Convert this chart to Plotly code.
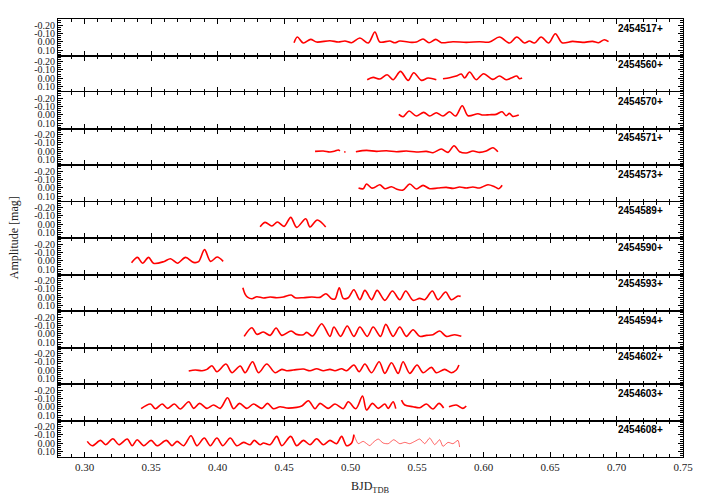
import plotly.graph_objects as go
from plotly.subplots import make_subplots

# night labels (BJD offset) for each panel, top to bottom
labels = ['2454517+', '2454560+', '2454570+', '2454571+', '2454573+', '2454589+',
          '2454590+', '2454593+', '2454594+', '2454602+', '2454603+', '2454608+']

x_517 = [0.4575, 0.460, 0.4645, 0.470, 0.4745, 0.4845, 0.4908, 0.4958, 0.5008, 0.507, 0.5133, 0.5183,
         0.522, 0.5295, 0.5333, 0.537, 0.5458, 0.5495, 0.5545, 0.559, 0.564, 0.5683, 0.577, 0.587,
         0.597, 0.6045, 0.612, 0.6195, 0.625, 0.6308, 0.6345, 0.6383, 0.6433, 0.649, 0.654, 0.659,
         0.667, 0.6745, 0.682, 0.6865, 0.6908, 0.694]
m_517 = [0.012, -0.056, 0.016, -0.028, 0.004, -0.012, 0.004, -0.008, 0.012, -0.044, 0.016, -0.116,
         0.004, -0.008, 0.012, -0.008, 0.008, 0.004, -0.032, 0.012, -0.028, 0.012, 0.0, 0.008,
         0.0, 0.004, -0.056, 0.016, -0.056, 0.016, -0.008, 0.016, -0.056, 0.016, -0.096, 0.012,
         -0.004, 0.008, -0.004, 0.012, -0.024, 0.0]

x_560 = [0.5125, 0.517, 0.522, 0.5275, 0.532, 0.5375, 0.5433, 0.5475, 0.5533, 0.5583, 0.5645, None,
         0.5695, 0.5745, 0.5795, 0.5833, 0.5858, 0.5895, 0.5945, 0.600, 0.607, 0.612, 0.617, 0.6208,
         0.625, 0.627, 0.629]
m_560 = [0.018, -0.010, 0.010, -0.042, 0.018, -0.082, 0.026, -0.066, 0.026, -0.002, 0.018, None,
         0.006, -0.006, -0.026, -0.050, -0.002, -0.074, 0.018, -0.054, 0.014, -0.026, 0.018, -0.002,
         -0.026, 0.006, -0.002]

x_570 = [0.5363, 0.5395, 0.544, 0.5495, 0.555, 0.5595, 0.5645, 0.5695, 0.5745, 0.579, 0.584, 0.5883,
         0.5958, 0.5995, 0.6045, 0.6095, 0.614, 0.617, 0.6195, 0.622, 0.6265]
m_570 = [-0.004, 0.024, -0.044, 0.016, -0.028, 0.016, -0.024, 0.016, -0.036, 0.016, -0.108, 0.012,
         -0.012, 0.004, 0.0, -0.004, -0.036, 0.012, -0.016, 0.020, 0.004]

x_571 = [0.4733, 0.4795, 0.4845, 0.4883, 0.4908, 0.492, None, 0.4952, 0.4962, None,
         0.504, 0.512, 0.5195, 0.527, 0.5345, 0.542, 0.5495, 0.557, 0.562, 0.5683, 0.5733, 0.5778,
         0.582, 0.587, 0.592, 0.597, 0.602, 0.607, 0.6108]
m_571 = [0.002, -0.002, 0.010, -0.002, -0.014, -0.002, None, 0.010, 0.008, None,
         0.006, -0.010, 0.002, -0.006, 0.006, -0.002, 0.010, 0.002, 0.018, -0.026, 0.014, -0.066,
         0.006, 0.022, -0.002, 0.014, -0.002, -0.042, 0.006]

x_573 = [0.506, 0.5095, 0.512, 0.5158, 0.5183, 0.522, 0.5258, 0.5308, 0.5345, 0.5395, 0.5445, 0.5495,
         0.5545, 0.5595, 0.5658, 0.572, 0.577, 0.582, 0.587, 0.592, 0.597, 0.6033, 0.6083, 0.6115,
         0.614]
m_573 = [0.004, 0.012, -0.044, 0.004, -0.004, -0.036, 0.012, -0.012, 0.016, 0.028, -0.044, 0.016,
         -0.028, 0.012, 0.004, -0.004, 0.008, -0.008, 0.004, -0.008, 0.004, -0.036, -0.012, 0.012,
         -0.030]

x_589 = [0.432, 0.4358, 0.4408, 0.445, 0.450, 0.455, 0.4595, 0.4663, 0.4695, 0.475, 0.4813]
m_589 = [0.030, -0.022, 0.022, -0.026, 0.026, -0.082, 0.038, -0.066, 0.034, -0.050, 0.034]

x_590 = [0.3353, 0.3398, 0.3436, 0.3481, 0.3518, 0.3594, 0.3646, 0.3699, 0.3759, 0.3819, 0.3857,
         0.3902, 0.3947, 0.3997, 0.4042]
m_590 = [0.024, -0.040, 0.030, -0.040, 0.030, 0.012, -0.024, 0.030, -0.040, 0.020, 0.012,
         -0.133, 0.008, -0.044, 0.008]

x_593 = [0.419, 0.4208, 0.4225, 0.4258, 0.4295, 0.4345, 0.4395, 0.4445, 0.4495, 0.4553, 0.4583, 0.4645,
         0.4708, 0.477, 0.4815, 0.4858, 0.4883, 0.4915, 0.4945, 0.4983, 0.5025, 0.507, 0.5108, 0.5158,
         0.520, 0.5258, 0.5315, 0.537, 0.5415, 0.547, 0.552, 0.5558, 0.5615, 0.5658, 0.5715, 0.5758,
         0.5808, 0.5828]
m_593 = [-0.114, -0.034, -0.002, 0.018, -0.006, 0.010, -0.002, 0.006, -0.002, -0.026, 0.006, 0.006,
         -0.002, 0.002, -0.042, 0.018, 0.022, -0.114, 0.014, 0.006, -0.090, 0.030, -0.082, 0.030,
         -0.082, 0.038, -0.074, 0.030, -0.074, 0.038, 0.014, 0.030, -0.074, 0.030, -0.062, 0.030,
         -0.014, -0.010]

x_594 = [0.420, 0.4258, 0.4295, 0.4345, 0.4395, 0.444, 0.4483, 0.4553, 0.4595, 0.4645, 0.467, 0.4715,
         0.4783, 0.4845, 0.4875, 0.4925, 0.4975, 0.5025, 0.507, 0.5125, 0.517, 0.5225, 0.5265, 0.532,
         0.537, 0.542, 0.547, 0.552, 0.557, 0.562, 0.567, 0.572, 0.5783, 0.5833]
m_594 = [0.032, -0.072, 0.008, -0.020, 0.020, -0.068, 0.020, -0.032, 0.008, 0.012, -0.016, 0.028,
         -0.120, 0.032, -0.080, 0.032, -0.092, 0.032, -0.080, 0.032, -0.080, 0.032, -0.112, 0.032,
         -0.080, 0.032, -0.048, 0.032, 0.020, 0.012, -0.032, 0.032, 0.012, 0.032]

x_602 = [0.3783, 0.3833, 0.3883, 0.392, 0.3958, 0.3995, 0.4063, 0.4108, 0.417, 0.4208, 0.4263, 0.4308,
         0.437, 0.4433, 0.4483, 0.452, 0.457, 0.4645, 0.4695, 0.4745, 0.4795, 0.4845, 0.4883, 0.4933,
         0.497, 0.5025, 0.5065, 0.5108, 0.5158, 0.5215, 0.5258, 0.5308, 0.5358, 0.5395, 0.5445, 0.550,
         0.5545, 0.5608, 0.5645, 0.5708, 0.5758, 0.5795, 0.5815]
m_602 = [0.010, -0.002, 0.006, -0.010, -0.054, 0.018, -0.074, 0.030, -0.050, 0.030, -0.102, 0.030,
         -0.074, 0.030, -0.010, 0.006, -0.002, -0.014, 0.006, -0.018, 0.006, -0.010, 0.006, -0.018,
         0.006, -0.062, 0.018, -0.074, 0.030, -0.102, 0.038, -0.090, 0.038, -0.102, 0.038, -0.062,
         0.030, -0.034, 0.030, -0.010, 0.030, -0.002, -0.062]

x_603 = [0.3425, 0.3495, 0.3533, 0.3583, 0.3625, 0.3675, 0.372, 0.3783, 0.382, 0.3865, 0.392, 0.397,
         0.402, 0.4075, 0.412, 0.4165, 0.422, 0.427, 0.4333, 0.4375, 0.442, 0.447, 0.452, 0.4595,
         0.4633, 0.4683, 0.4733, 0.477, 0.4833, 0.4883, 0.4945, 0.4983, 0.504, 0.509, 0.512, 0.5165,
         0.5208, 0.5258, 0.5283, 0.532, 0.534, None, 0.5383, 0.5408, 0.547, 0.552, 0.557, 0.562,
         0.5665, 0.570, None, 0.574, 0.5795, 0.5845, 0.587]
m_603 = [0.024, -0.032, 0.024, -0.032, 0.020, -0.032, 0.028, -0.060, 0.020, -0.040, 0.020, -0.020,
         0.020, -0.108, 0.024, -0.040, 0.020, -0.032, 0.020, -0.040, 0.024, 0.0, 0.016, 0.008,
         -0.008, -0.072, 0.024, -0.040, 0.020, -0.032, 0.024, -0.060, 0.024, -0.128, 0.040, -0.040,
         0.020, -0.032, 0.020, -0.060, 0.024, None, -0.080, -0.020, 0.0, 0.012, -0.032, 0.028,
         -0.040, 0.016, None, 0.0, -0.020, 0.020, -0.008]

x_608 = [0.302, 0.3058, 0.312, 0.3158, 0.3213, 0.3258, 0.332, 0.3358, 0.3395, 0.3445, 0.350, 0.3545,
         0.3615, 0.3658, 0.3695, 0.3745, 0.380, 0.3845, 0.390, 0.3945, 0.3995, 0.404, 0.4095, 0.4145,
         0.4195, 0.4245, 0.4275, 0.432, 0.4345, 0.4395, 0.4445, 0.4483, 0.455, 0.4595, 0.4645, 0.4695,
         0.4745, 0.4795, 0.4845, 0.4895, 0.4933, 0.497, 0.5008, 0.5025]
m_608 = [-0.022, 0.030, -0.034, 0.018, -0.054, 0.018, -0.050, 0.030, -0.042, 0.030, -0.034, 0.030,
         -0.034, 0.030, -0.022, 0.030, -0.090, 0.030, -0.062, 0.030, -0.062, 0.030, -0.062, 0.030,
         -0.010, 0.018, -0.034, 0.018, -0.002, 0.018, -0.082, 0.030, -0.082, 0.030, -0.034, 0.018,
         -0.054, 0.018, -0.034, 0.006, -0.082, 0.030, -0.002, -0.102]
# sparser end of the last night
x_608b = [0.5025, 0.5058, 0.5095, 0.5145, 0.517, 0.5208, 0.5245, 0.5283, 0.5325, 0.537, 0.5408, 0.5445,
          0.5483, 0.552, 0.5558, 0.5595, 0.5633, 0.567, 0.5695, 0.5733, 0.577, 0.5808, 0.582]
m_608b = [-0.102, 0.006, -0.022, 0.030, -0.010, -0.050, -0.002, 0.006, -0.042, 0.006, -0.010, 0.006,
          -0.022, -0.050, 0.006, -0.062, 0.018, -0.042, 0.038, -0.010, 0.006, -0.034, 0.046]

panels = [(x_517, m_517), (x_560, m_560), (x_570, m_570), (x_571, m_571), (x_573, m_573),
          (x_589, m_589), (x_590, m_590), (x_593, m_593), (x_594, m_594), (x_602, m_602),
          (x_603, m_603), (x_608, m_608)]

red = '#ff0000'
serif = 'Liberation Serif'

fig = make_subplots(rows=12, cols=1, shared_xaxes=True, vertical_spacing=0)

for i, (xs, ms) in enumerate(panels, start=1):
    fig.add_trace(go.Scatter(x=xs, y=ms, mode='lines',
                             line=dict(color=red, width=1.6, shape='spline', smoothing=0.9),
                             showlegend=False, hoverinfo='skip'), row=i, col=1)
    xr = 'x' if i == 1 else 'x%d' % i
    yr = 'y domain' if i == 1 else 'y%d domain' % i
    fig.add_annotation(x=0.7365, xref=xr, y=0.95, yref=yr, text='<b>%s</b>' % labels[i - 1],
                       showarrow=False, xanchor='right', yanchor='top',
                       font=dict(family='Liberation Sans', size=10, color='black'))

fig.add_trace(go.Scatter(x=x_608b, y=m_608b, mode='lines',
                         line=dict(color='rgba(255,0,0,0.6)', width=1, shape='spline', smoothing=0.6),
                         showlegend=False, hoverinfo='skip'), row=12, col=1)

fig.update_xaxes(range=[0.28, 0.75], dtick=0.05, tick0=0.3, tickformat='.2f',
                 ticks='inside', ticklen=5, tickwidth=1.2, tickcolor='black',
                 minor=dict(dtick=0.01, tick0=0.3, ticks='inside', ticklen=3, tickwidth=1,
                            tickcolor='black'),
                 showline=True, linecolor='black', linewidth=1, mirror='allticks',
                 showgrid=False, zeroline=False,
                 tickfont=dict(family=serif, size=11, color='#222222'))

fig.update_yaxes(range=[0.166, -0.273], tickvals=[-0.2, -0.1, 0.0, 0.1],
                 ticktext=['-0.20', '-0.10', '0.00', '0.10'],
                 ticks='inside', ticklen=5, tickwidth=1, tickcolor='black',
                 minor=dict(dtick=0.025, tick0=0, ticks='inside', ticklen=3, tickwidth=1,
                            tickcolor='black'),
                 showline=True, linecolor='black', linewidth=1, mirror='allticks',
                 showgrid=False, zeroline=False,
                 tickfont=dict(family=serif, size=10, color='#222222'))

fig.add_annotation(x=-0.07, xref='paper', y=0.5, yref='paper', text='Amplitude [mag]',
                   textangle=-90, showarrow=False, xanchor='center', yanchor='middle',
                   font=dict(family=serif, size=12, color='#222222'))
fig.add_annotation(x=0.5, xref='paper', y=-0.068, yref='paper', text='BJD<sub>TDB</sub>',
                   showarrow=False, xanchor='center', yanchor='middle',
                   font=dict(family=serif, size=12, color='#222222'))

fig.update_layout(width=712, height=498, margin=dict(l=58, r=29, t=19, b=41),
                  paper_bgcolor='white', plot_bgcolor='white')

fig.write_html('out.html', config={'displayModeBar': False},
               post_script="document.body.style.margin='0';")
